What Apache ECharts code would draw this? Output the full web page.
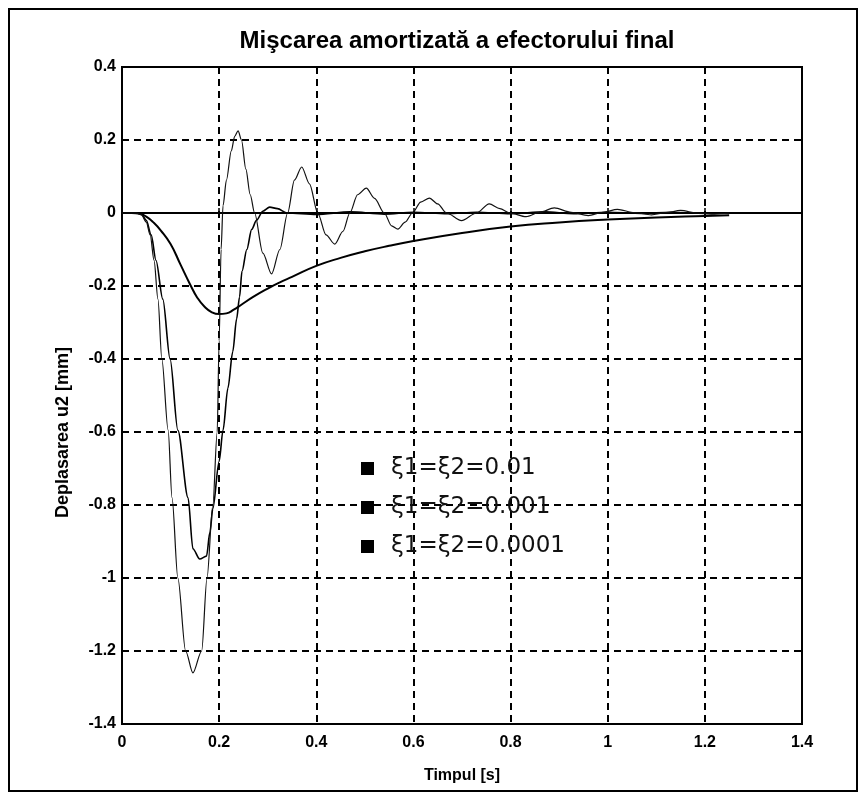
<!DOCTYPE html>
<html>
<head>
<meta charset="utf-8">
<script src="https://cdn.jsdelivr.net/npm/echarts@6/dist/echarts.min.js"></script>
<style>
  html, body { margin: 0; padding: 0; background: #fff; }
  #chart { width: 867px; height: 802px; }
</style>
</head>
<body>
<div id="chart"></div>
<script>
// xi1 = xi2 = 0.01
const tA = [0, 0.02, 0.037, 0.05, 0.064, 0.08, 0.1, 0.12, 0.14, 0.155, 0.17, 0.185, 0.2, 0.215, 0.23, 0.245, 0.27, 0.3, 0.325, 0.35, 0.4, 0.45, 0.5, 0.55, 0.6, 0.7, 0.8, 0.9, 1.0, 1.1, 1.2, 1.25]
const vA = [0, 0, -0.002, -0.01, -0.025, -0.048, -0.085, -0.14, -0.195, -0.232, -0.257, -0.272, -0.277, -0.275, -0.265, -0.252, -0.23, -0.207, -0.19, -0.175, -0.145, -0.123, -0.105, -0.09, -0.077, -0.055, -0.037, -0.026, -0.018, -0.012, -0.008, -0.006]
// xi1 = xi2 = 0.001
const tB = [0, 0.03, 0.04, 0.05, 0.06, 0.07, 0.084, 0.099, 0.115, 0.136, 0.146, 0.16, 0.174, 0.181, 0.187, 0.2, 0.208, 0.218, 0.228, 0.236, 0.242, 0.247, 0.257, 0.267, 0.277, 0.29, 0.304, 0.32, 0.34, 0.4, 0.47, 0.54, 0.6, 0.67, 0.73, 0.8, 0.87, 0.93, 1.0, 1.07, 1.13, 1.2, 1.25]
const vB = [0, 0, -0.003, -0.02, -0.06, -0.13, -0.236, -0.4, -0.595, -0.78, -0.92, -0.948, -0.94, -0.875, -0.81, -0.68, -0.595, -0.48, -0.38, -0.29, -0.23, -0.16, -0.1, -0.045, -0.02, 0.005, 0.016, 0.012, 0, -0.004, 0.003, -0.003, 0.002, -0.002, 0.002, -0.002, 0.003, -0.002, 0.002, -0.001, 0.002, -0.001, 0]
// xi1 = xi2 = 0.0001
const tC = [0, 0.03, 0.04, 0.05, 0.058, 0.066, 0.074, 0.082, 0.095, 0.103, 0.115, 0.131, 0.146, 0.164, 0.175, 0.187, 0.196, 0.2, 0.204, 0.208, 0.215, 0.225, 0.232, 0.239, 0.246, 0.255, 0.264, 0.273, 0.29, 0.308, 0.325, 0.341, 0.355, 0.37, 0.386, 0.403, 0.42, 0.438, 0.455, 0.469, 0.485, 0.503, 0.52, 0.54, 0.555, 0.568, 0.583, 0.598, 0.615, 0.633, 0.65, 0.668, 0.699, 0.73, 0.756, 0.778, 0.798, 0.832, 0.86, 0.89, 0.925, 0.96, 0.99, 1.02, 1.055, 1.09, 1.12, 1.15, 1.185, 1.22, 1.25]
const vC = [0, 0, -0.005, -0.025, -0.06, -0.13, -0.236, -0.4, -0.595, -0.78, -1.0, -1.2, -1.26, -1.2, -1.0, -0.8, -0.6, -0.35, -0.1, 0.02, 0.09, 0.17, 0.21, 0.225, 0.2, 0.12, 0.05, 0, -0.11, -0.167, -0.1, 0, 0.09, 0.126, 0.08, 0, -0.06, -0.085, -0.05, 0, 0.05, 0.068, 0.04, 0, -0.035, -0.044, -0.025, 0, 0.03, 0.041, 0.025, 0, -0.021, 0, 0.025, 0.012, 0, -0.01, 0.002, 0.014, 0.002, -0.007, 0.002, 0.01, 0.001, -0.005, 0.001, 0.007, 0, -0.003, 0]

const seriesNames = ['ξ1=ξ2=0.01', 'ξ1=ξ2=0.001', 'ξ1=ξ2=0.0001']
const xTicks = [0, 0.2, 0.4, 0.6, 0.8, 1, 1.2, 1.4]
const yTicks = [0.4, 0.2, 0, -0.2, -0.4, -0.6, -0.8, -1, -1.2, -1.4]

const zip = (t, v) => t.map((x, i) => [x, v[i]])
const tickText = (list, v) => String(list.find(t => Math.abs(t - v) < 1e-6) ?? v)

const chart = echarts.init(document.getElementById('chart'))

const labelFont = { fontFamily: 'Liberation Sans, Arial, sans-serif', fontWeight: 'bold', color: '#000' }

chart.setOption({
    animation: false,
    backgroundColor: '#fff',
    title: {
        text: 'Mişcarea amortizată a efectorului final',
        left: 452,
        textAlign: 'center',
        top: 24,
        textStyle: { fontFamily: 'Liberation Sans, Arial, sans-serif', fontWeight: 900, fontSize: 24, color: '#000' }
    },
    graphic: [{
        type: 'rect',
        shape: { x: 9, y: 9, width: 848, height: 782 },
        style: { fill: 'none', stroke: '#000', lineWidth: 2 },
        silent: true
    }],
    legend: {
        orient: 'vertical',
        left: 356,
        top: 450,
        itemGap: 12,
        itemWidth: 13,
        itemHeight: 13,
        icon: 'rect',
        data: seriesNames.map(n => ({ name: n, itemStyle: { color: '#000' } })),
        textStyle: { fontFamily: 'DejaVu Sans', fontSize: 23, lineHeight: 27, color: '#111', padding: [0, 0, 0, 12] }
    },
    grid: {
        left: 122,
        right: 65,
        top: 67,
        bottom: 78,
        show: true,
        borderColor: '#000',
        borderWidth: 2
    },
    xAxis: {
        type: 'value',
        min: 0,
        max: 1.4,
        interval: 0.2,
        name: 'Timpul [s]',
        nameLocation: 'middle',
        nameGap: 44,
        nameTextStyle: Object.assign({ fontSize: 16 }, labelFont),
        axisLine: { show: true, lineStyle: { color: '#000', width: 2 } },
        axisTick: { show: true, inside: true, length: 5, lineStyle: { color: '#000', width: 1.5 } },
        axisLabel: Object.assign({ fontSize: 16, margin: 11, formatter: v => tickText(xTicks, v) }, labelFont),
        splitLine: { show: true, lineStyle: { color: '#000', type: [7, 5], width: 2 } }
    },
    yAxis: {
        type: 'value',
        min: -1.4,
        max: 0.4,
        interval: 0.2,
        name: 'Deplasarea u2 [mm]',
        nameLocation: 'middle',
        nameGap: 50,
        nameTextStyle: Object.assign({ fontSize: 18, padding: [0, 74, 0, 0] }, labelFont),
        axisLine: { show: true, lineStyle: { color: '#000', width: 2 } },
        axisTick: { show: true, inside: true, length: 5, lineStyle: { color: '#000', width: 1.5 } },
        axisLabel: Object.assign({ fontSize: 16, margin: 6, formatter: v => tickText(yTicks, v) }, labelFont),
        splitLine: { show: true, lineStyle: { color: '#000', type: [7, 5], width: 2 } }
    },
    series: [
        { name: seriesNames[0], type: 'line', data: zip(tA, vA), showSymbol: false, smooth: 0.5, lineStyle: { color: '#000', width: 2 }, itemStyle: { color: '#000' } },
        { name: seriesNames[1], type: 'line', data: zip(tB, vB), showSymbol: false, smooth: 0.3, smoothMonotone: 'x', lineStyle: { color: '#000', width: 1.6 }, itemStyle: { color: '#000' } },
        { name: seriesNames[2], type: 'line', data: zip(tC, vC), showSymbol: false, smooth: 0.3, smoothMonotone: 'x', lineStyle: { color: '#111', width: 1.2 }, itemStyle: { color: '#000' } }
    ]
})
</script>
</body>
</html>
